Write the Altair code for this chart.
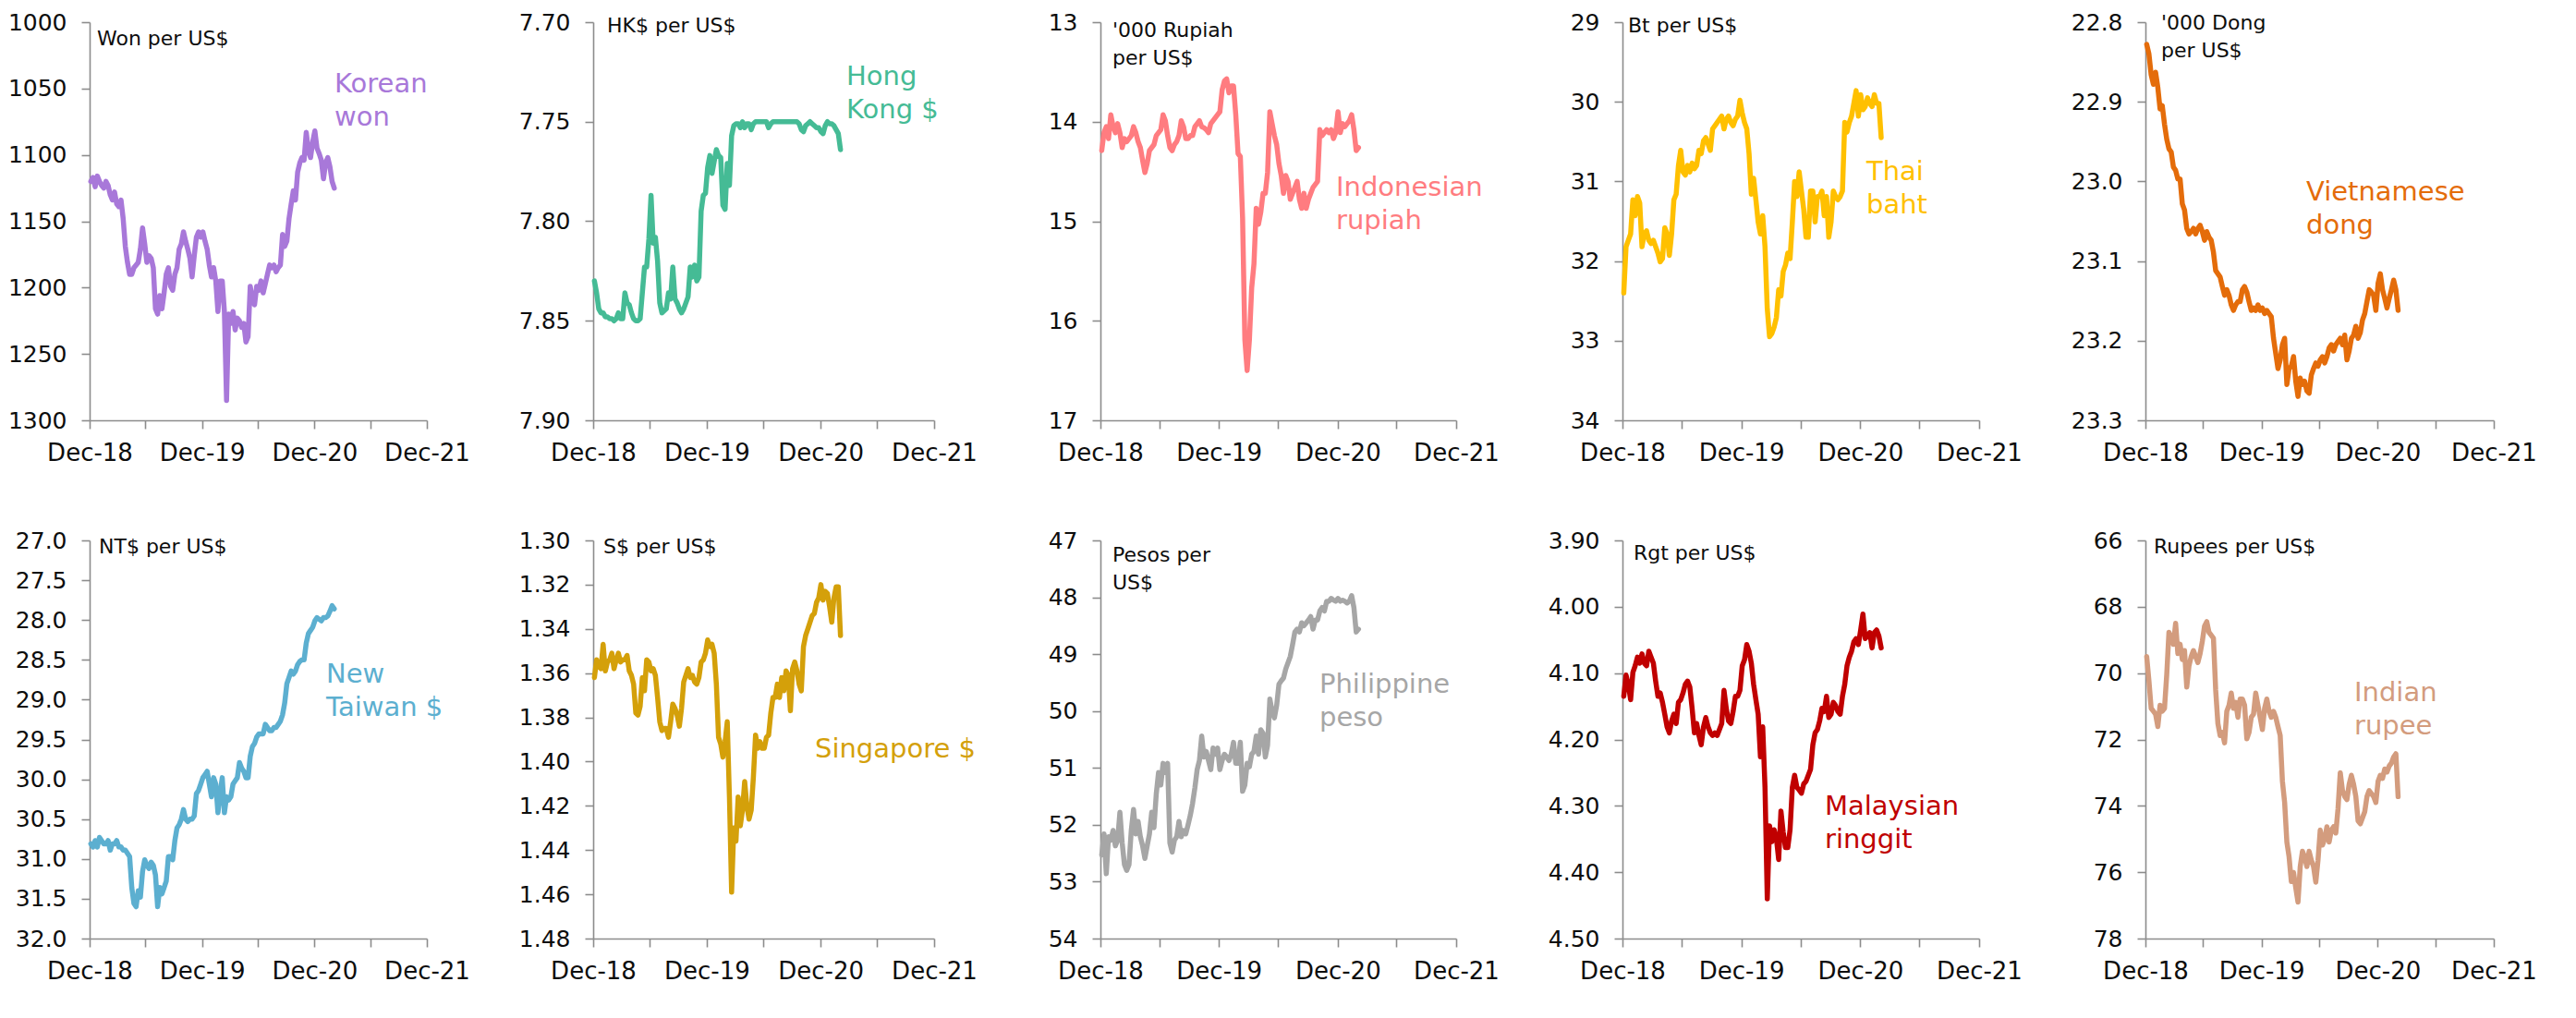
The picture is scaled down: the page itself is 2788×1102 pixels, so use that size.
import altair as alt
import pandas as pd

# weekly observations (Fridays) from early Jan 2019 to early Mar 2021
dates = pd.date_range("2019-01-04", periods=114, freq="7D")

krw = [1120, 1117, 1124, 1116, 1120, 1123, 1125, 1120, 1123, 1130,
       1134, 1128, 1137, 1139, 1134, 1148, 1169, 1181, 1190, 1190,
       1185, 1183, 1181, 1171, 1155, 1167, 1181, 1176, 1178, 1185,
       1216, 1220, 1206, 1216, 1204, 1190, 1185, 1199, 1202, 1190,
       1185, 1171, 1167, 1158, 1165, 1171, 1178, 1192, 1176, 1162,
       1158, 1162, 1158, 1165, 1171, 1183, 1192, 1185, 1195, 1218,
       1195, 1195, 1218, 1285, 1220, 1227, 1218, 1232, 1223, 1225,
       1230, 1227, 1241, 1237, 1199, 1209, 1213, 1199, 1202, 1195,
       1204, 1197, 1190, 1183, 1185, 1183, 1188, 1185, 1183, 1160,
       1169, 1165, 1148, 1137, 1127, 1134, 1113, 1106, 1102, 1104,
       1083, 1097, 1102, 1090, 1082, 1095, 1099, 1104, 1118, 1106,
       1102, 1109, 1120, 1125]

hkd = [7.830, 7.836, 7.844, 7.846, 7.846, 7.848, 7.848, 7.849, 7.849, 7.850,
       7.849, 7.846, 7.849, 7.849, 7.836, 7.841, 7.842, 7.846, 7.849, 7.850,
       7.850, 7.849, 7.836, 7.823, 7.823, 7.809, 7.787, 7.811, 7.808, 7.820,
       7.841, 7.846, 7.845, 7.844, 7.836, 7.839, 7.823, 7.839, 7.841, 7.844,
       7.846, 7.844, 7.841, 7.838, 7.823, 7.828, 7.822, 7.830, 7.828, 7.795,
       7.787, 7.786, 7.773, 7.767, 7.776, 7.770, 7.764, 7.767, 7.768, 7.792,
       7.794, 7.771, 7.782, 7.757, 7.752, 7.751, 7.751, 7.753, 7.750, 7.753,
       7.751, 7.751, 7.754, 7.751, 7.750, 7.750, 7.750, 7.750, 7.750, 7.750,
       7.753, 7.751, 7.750, 7.750, 7.750, 7.750, 7.750, 7.750, 7.750, 7.750,
       7.750, 7.750, 7.750, 7.750, 7.751, 7.754, 7.755, 7.752, 7.751, 7.750,
       7.751, 7.752, 7.753, 7.753, 7.755, 7.756, 7.752, 7.750, 7.751, 7.751,
       7.752, 7.754, 7.756, 7.764]

idr = [14.29, 14.11, 14.05, 14.17, 13.93, 14.05, 14.11, 14.02, 14.11, 14.26,
       14.17, 14.20, 14.17, 14.14, 14.05, 14.11, 14.20, 14.26, 14.39, 14.51,
       14.42, 14.29, 14.26, 14.23, 14.14, 14.11, 14.08, 13.93, 13.99, 14.14,
       14.26, 14.29, 14.23, 14.20, 14.14, 13.99, 14.05, 14.17, 14.17, 14.14,
       14.14, 14.05, 14.02, 13.99, 14.05, 14.06, 14.08, 14.11, 14.02, 13.99,
       13.96, 13.93, 13.90, 13.68, 13.59, 13.57, 13.71, 13.64, 13.64, 13.93,
       14.32, 14.35, 14.97, 16.19, 16.50, 16.19, 15.67, 15.43, 14.87, 15.03,
       14.91, 14.72, 14.72, 14.51, 13.90, 14.02, 14.14, 14.23, 14.42, 14.54,
       14.72, 14.54, 14.60, 14.78, 14.72, 14.66, 14.60, 14.78, 14.87, 14.72,
       14.87, 14.78, 14.72, 14.66, 14.63, 14.60, 14.08, 14.14, 14.11, 14.08,
       14.11, 14.08, 14.17, 14.11, 13.90, 14.11, 14.02, 14.05, 14.02, 13.99,
       13.93, 14.08, 14.29, 14.26]

thb = [32.40, 31.82, 31.74, 31.66, 31.23, 31.43, 31.19, 31.27, 31.82, 31.66,
       31.62, 31.74, 31.78, 31.74, 31.82, 31.90, 32.01, 31.97, 31.58, 31.66,
       31.93, 31.66, 31.23, 31.16, 30.80, 30.61, 30.88, 30.92, 30.80, 30.88,
       30.77, 30.84, 30.80, 30.61, 30.65, 30.49, 30.45, 30.53, 30.61, 30.34,
       30.30, 30.26, 30.22, 30.18, 30.34, 30.22, 30.18, 30.26, 30.30, 30.22,
       30.18, 29.98, 30.14, 30.26, 30.34, 30.65, 31.16, 30.96, 31.23, 31.51,
       31.66, 31.43, 31.82, 32.60, 32.95, 32.91, 32.83, 32.71, 32.36, 32.44,
       32.13, 32.05, 31.90, 31.97, 31.51, 31.00, 31.19, 30.88, 31.12, 31.35,
       31.70, 31.70, 31.12, 31.12, 31.51, 31.19, 31.19, 31.12, 31.43, 31.19,
       31.70, 31.51, 31.12, 31.19, 31.23, 31.19, 31.12, 30.26, 30.38, 30.26,
       30.18, 30.02, 29.86, 30.18, 29.91, 30.10, 30.06, 29.95, 30.02, 30.06,
       29.91, 30.02, 30.02, 30.45]

vnd = [22.828, 22.840, 22.866, 22.878, 22.863, 22.882, 22.909, 22.905, 22.928, 22.947,
       22.959, 22.963, 22.982, 22.986, 22.997, 22.997, 23.028, 23.036, 23.059, 23.066,
       23.063, 23.059, 23.066, 23.059, 23.055, 23.063, 23.074, 23.063, 23.070, 23.074,
       23.089, 23.112, 23.116, 23.120, 23.132, 23.143, 23.136, 23.143, 23.155, 23.162,
       23.155, 23.151, 23.151, 23.136, 23.132, 23.139, 23.151, 23.162, 23.159, 23.162,
       23.155, 23.162, 23.159, 23.166, 23.162, 23.166, 23.170, 23.197, 23.216, 23.235,
       23.224, 23.205, 23.197, 23.255, 23.235, 23.232, 23.220, 23.251, 23.270, 23.247,
       23.255, 23.251, 23.263, 23.266, 23.243, 23.235, 23.228, 23.232, 23.224, 23.220,
       23.228, 23.220, 23.209, 23.205, 23.213, 23.205, 23.201, 23.197, 23.205, 23.193,
       23.224, 23.213, 23.197, 23.193, 23.182, 23.197, 23.190, 23.174, 23.166, 23.151,
       23.136, 23.139, 23.143, 23.162, 23.128, 23.116, 23.136, 23.147, 23.159, 23.147,
       23.136, 23.124, 23.136, 23.162]

twd = [30.81, 30.85, 30.77, 30.85, 30.73, 30.77, 30.81, 30.81, 30.77, 30.89,
       30.81, 30.81, 30.77, 30.85, 30.85, 30.89, 30.89, 30.93, 30.97, 31.36,
       31.56, 31.60, 31.40, 31.48, 31.16, 31.01, 31.08, 31.12, 31.04, 31.08,
       31.20, 31.60, 31.36, 31.44, 31.36, 31.28, 30.97, 30.97, 31.01, 30.77,
       30.61, 30.57, 30.50, 30.38, 30.50, 30.53, 30.50, 30.50, 30.46, 30.18,
       30.14, 30.06, 29.98, 29.94, 29.90, 30.06, 30.22, 29.98, 30.06, 30.42,
       30.18, 29.98, 30.42, 30.22, 30.26, 30.22, 30.06, 30.02, 29.98, 29.79,
       29.86, 29.90, 29.98, 29.98, 29.71, 29.59, 29.55, 29.47, 29.43, 29.43,
       29.43, 29.31, 29.35, 29.39, 29.39, 29.35, 29.35, 29.31, 29.27, 29.19,
       29.04, 28.80, 28.72, 28.64, 28.68, 28.64, 28.56, 28.52, 28.50, 28.50,
       28.29, 28.17, 28.13, 28.09, 28.01, 27.97, 27.99, 28.01, 27.97, 27.97,
       27.95, 27.89, 27.82, 27.86]

sgd = [1.362, 1.354, 1.357, 1.358, 1.347, 1.359, 1.355, 1.354, 1.351, 1.358,
       1.354, 1.351, 1.355, 1.354, 1.354, 1.352, 1.359, 1.361, 1.365, 1.378,
       1.379, 1.375, 1.362, 1.368, 1.354, 1.355, 1.359, 1.358, 1.361, 1.371,
       1.382, 1.386, 1.385, 1.385, 1.389, 1.382, 1.374, 1.376, 1.379, 1.384,
       1.376, 1.364, 1.361, 1.358, 1.362, 1.361, 1.364, 1.365, 1.362, 1.355,
       1.354, 1.351, 1.345, 1.348, 1.347, 1.351, 1.365, 1.389, 1.392, 1.398,
       1.391, 1.382, 1.416, 1.459, 1.430, 1.436, 1.416, 1.429, 1.422, 1.409,
       1.420, 1.426, 1.422, 1.407, 1.388, 1.394, 1.391, 1.394, 1.394, 1.389,
       1.388, 1.378, 1.371, 1.371, 1.365, 1.371, 1.362, 1.368, 1.359, 1.361,
       1.377, 1.358, 1.355, 1.359, 1.365, 1.368, 1.348, 1.343, 1.340, 1.337,
       1.334, 1.333, 1.328, 1.326, 1.320, 1.327, 1.323, 1.324, 1.330, 1.337,
       1.326, 1.321, 1.321, 1.343]

php = [52.53, 52.16, 52.86, 52.21, 52.27, 52.10, 52.37, 52.27, 51.78, 52.32,
       52.70, 52.80, 52.70, 52.10, 51.73, 52.16, 51.94, 52.21, 52.37, 52.59,
       52.37, 52.16, 51.78, 52.05, 51.46, 51.08, 51.30, 50.92, 51.08, 50.92,
       52.32, 52.48, 52.27, 52.21, 51.94, 52.21, 52.10, 52.16, 52.00, 51.83,
       51.62, 51.35, 51.03, 50.87, 50.44, 50.81, 50.71, 50.87, 51.03, 50.65,
       50.76, 50.65, 51.03, 50.87, 50.76, 50.81, 50.87, 50.76, 50.55, 50.92,
       50.92, 50.55, 51.41, 51.30, 50.92, 50.98, 50.76, 50.71, 50.44, 50.76,
       50.33, 50.39, 50.81, 50.60, 49.79, 50.01, 50.12, 49.90, 49.53, 49.47,
       49.42, 49.26, 49.15, 49.04, 48.83, 48.61, 48.56, 48.61, 48.45, 48.50,
       48.45, 48.40, 48.34, 48.56, 48.40, 48.40, 48.24, 48.18, 48.24, 48.07,
       48.07, 48.02, 48.05, 48.07, 48.02, 48.07, 48.05, 48.07, 48.10, 48.07,
       47.97, 48.18, 48.61, 48.56]

myr = [4.135, 4.103, 4.117, 4.140, 4.099, 4.089, 4.076, 4.085, 4.071, 4.085,
       4.089, 4.067, 4.076, 4.085, 4.112, 4.135, 4.130, 4.144, 4.162, 4.181,
       4.190, 4.172, 4.162, 4.176, 4.144, 4.140, 4.130, 4.117, 4.112, 4.121,
       4.153, 4.190, 4.176, 4.194, 4.208, 4.181, 4.167, 4.181, 4.190, 4.194,
       4.190, 4.194, 4.185, 4.176, 4.126, 4.153, 4.172, 4.176, 4.158, 4.135,
       4.135, 4.126, 4.089, 4.080, 4.057, 4.067, 4.085, 4.117, 4.140, 4.162,
       4.226, 4.181, 4.272, 4.440, 4.330, 4.354, 4.336, 4.349, 4.381, 4.308,
       4.340, 4.363, 4.363, 4.336, 4.272, 4.254, 4.272, 4.276, 4.281, 4.267,
       4.263, 4.254, 4.245, 4.208, 4.190, 4.185, 4.172, 4.153, 4.158, 4.135,
       4.167, 4.162, 4.144, 4.149, 4.158, 4.162, 4.135, 4.117, 4.089, 4.076,
       4.067, 4.053, 4.048, 4.057, 4.035, 4.011, 4.048, 4.044, 4.039, 4.062,
       4.039, 4.035, 4.044, 4.062]

inr = [69.50, 70.23, 71.06, 71.15, 71.24, 71.61, 70.97, 71.15, 71.06, 70.05,
       68.77, 68.95, 69.13, 68.50, 69.41, 69.13, 69.59, 69.32, 70.42, 69.78,
       69.50, 69.32, 69.50, 69.68, 69.41, 69.04, 68.58, 68.45, 68.77, 68.86,
       68.95, 70.51, 71.52, 71.88, 71.79, 72.10, 71.15, 70.97, 70.60, 71.06,
       70.88, 71.33, 70.78, 70.78, 70.97, 71.98, 71.79, 71.33, 71.24, 70.60,
       70.97, 71.33, 71.70, 71.06, 70.78, 71.15, 71.33, 71.15, 71.33, 71.61,
       71.88, 73.26, 73.90, 75.09, 75.54, 76.28, 76.01, 76.47, 76.90, 75.83,
       75.37, 75.54, 75.83, 75.37, 75.64, 75.83, 76.30, 75.64, 74.73, 75.18,
       75.00, 74.63, 75.09, 74.73, 74.63, 74.82, 74.08, 73.00, 73.54, 73.72,
       73.81, 73.35, 73.08, 73.35, 73.72, 74.45, 74.54, 74.36, 74.18, 73.72,
       73.54, 73.63, 73.72, 73.90, 73.26, 73.08, 73.17, 72.89, 72.98, 72.80,
       72.71, 72.53, 72.43, 73.72]

FONT = "DejaVu Sans"
AXIS_GREY = "#8c8c8c"
TEXT = "#0d0d0d"

X0 = alt.DateTime(year=2018, month=12, date=31)
X1 = alt.DateTime(year=2021, month=12, date=31)
x_ticks = [alt.DateTime(year=y, month=m, date=d) for (y, m, d) in
           [(2018, 12, 31), (2019, 6, 30), (2019, 12, 31), (2020, 6, 30),
            (2020, 12, 31), (2021, 6, 30), (2021, 12, 31)]]

panels = [
    dict(v=krw, c="#A878D9", dom=[1000, 1300], t=[1000, 1050, 1100, 1150, 1200, 1250, 1300], f="d",
         unit="Won per US$", uxy=(8, 25), lab="Korean\nwon", lxy=(265, 76)),
    dict(v=hkd, c="#45BB95", dom=[7.70, 7.90], t=[7.70, 7.75, 7.80, 7.85, 7.90], f=".2f",
         unit="HK$ per US$", uxy=(15, 11), lab="Hong\nKong $", lxy=(274, 68)),
    dict(v=idr, c="#FF7C80", dom=[13, 17], t=[13, 14, 15, 16, 17], f="d",
         unit="'000 Rupiah\nper US$", uxy=(13, 16), lab="Indonesian\nrupiah", lxy=(255, 188)),
    dict(v=thb, c="#FFC000", dom=[29, 34], t=[29, 30, 31, 32, 33, 34], f="d",
         unit="Bt per US$", uxy=(6, 11), lab="Thai\nbaht", lxy=(264, 171)),
    dict(v=vnd, c="#E46C0A", dom=[22.8, 23.3], t=[22.8, 22.9, 23.0, 23.1, 23.2, 23.3], f=".1f",
         unit="'000 Dong\nper US$", uxy=(17, 8), lab="Vietnamese\ndong", lxy=(174, 193)),
    dict(v=twd, c="#5CAFD0", dom=[27.0, 32.0], t=[27.0, 27.5, 28.0, 28.5, 29.0, 29.5, 30.0, 30.5, 31.0, 31.5, 32.0], f=".1f",
         unit="NT$ per US$", uxy=(10, 14), lab="New\nTaiwan $", lxy=(256, 154)),
    dict(v=sgd, c="#D4A00A", dom=[1.30, 1.48], t=[1.30, 1.32, 1.34, 1.36, 1.38, 1.40, 1.42, 1.44, 1.46, 1.48], f=".2f",
         unit="S$ per US$", uxy=(11, 14), lab="Singapore $", lxy=(240, 235)),
    dict(v=php, c="#A6A6A6", dom=[47, 54], t=[47, 48, 49, 50, 51, 52, 53, 54], f="d",
         unit="Pesos per\nUS$", uxy=(13, 23), lab="Philippine\npeso", lxy=(237, 165)),
    dict(v=myr, c="#C00000", dom=[3.90, 4.50], t=[3.90, 4.00, 4.10, 4.20, 4.30, 4.40, 4.50], f=".2f",
         unit="Rgt per US$", uxy=(12, 21), lab="Malaysian\nringgit", lxy=(219, 297)),
    dict(v=inr, c="#D39C7E", dom=[66, 78], t=[66, 68, 70, 72, 74, 76, 78], f="d",
         unit="Rupees per US$", uxy=(9, 14), lab="Indian\nrupee", lxy=(226, 174)),
]

widths = [365, 369, 385, 386, 377]
H = 431


def make_panel(p, w):
    df = pd.DataFrame({"date": dates, "value": p["v"]})
    line = alt.Chart(df).mark_line(
        color=p["c"], strokeWidth=5.5, strokeJoin="round", strokeCap="round"
    ).encode(
        x=alt.X("date:T",
                scale=alt.Scale(domain=[X0, X1]),
                axis=alt.Axis(values=x_ticks, title=None, grid=False,
                              labelExpr="month(datum.value) == 11 ? timeFormat(datum.value, '%b-%y') : ''",
                              tickSize=9, labelPadding=13, labelFontSize=26,
                              labelFont=FONT, labelColor=TEXT,
                              domainColor=AXIS_GREY, tickColor=AXIS_GREY,
                              domainWidth=1.6, tickWidth=1.6,
                              labelFlush=False, labelOverlap=False)),
        y=alt.Y("value:Q",
                scale=alt.Scale(domain=p["dom"], reverse=True, nice=False, zero=False),
                axis=alt.Axis(values=p["t"], format=p["f"], title=None, grid=False,
                              tickSize=9, labelPadding=16, labelFontSize=25,
                              labelFont=FONT, labelColor=TEXT,
                              domainColor=AXIS_GREY, tickColor=AXIS_GREY,
                              domainWidth=1.6, tickWidth=1.6,
                              labelOverlap=False)),
    )
    one = pd.DataFrame({"k": [0]})
    unit = alt.Chart(one).mark_text(
        align="left", baseline="alphabetic", font=FONT, fontSize=22, color=TEXT,
        lineBreak="\n", lineHeight=30
    ).encode(x=alt.value(p["uxy"][0]), y=alt.value(p["uxy"][1]), text=alt.value(p["unit"]))
    lab = alt.Chart(one).mark_text(
        align="left", baseline="alphabetic", font=FONT, fontSize=29, color=p["c"],
        lineBreak="\n", lineHeight=36
    ).encode(x=alt.value(p["lxy"][0]), y=alt.value(p["lxy"][1]), text=alt.value(p["lab"]))
    return alt.layer(line, unit, lab).properties(width=w, height=H)


cells = [make_panel(panels[k], widths[k % 5]) for k in range(10)]

chart = alt.concat(
    *cells, columns=5, spacing={"row": 130, "column": 180},
    bounds="flush", align="each"
).properties(
    padding={"left": 0, "right": 0, "top": 4, "bottom": 0}, background="white"
).configure(font=FONT).configure_view(strokeWidth=0, stroke="transparent")

chart.save("out.html", embed_options={"renderer": "svg", "actions": False})
